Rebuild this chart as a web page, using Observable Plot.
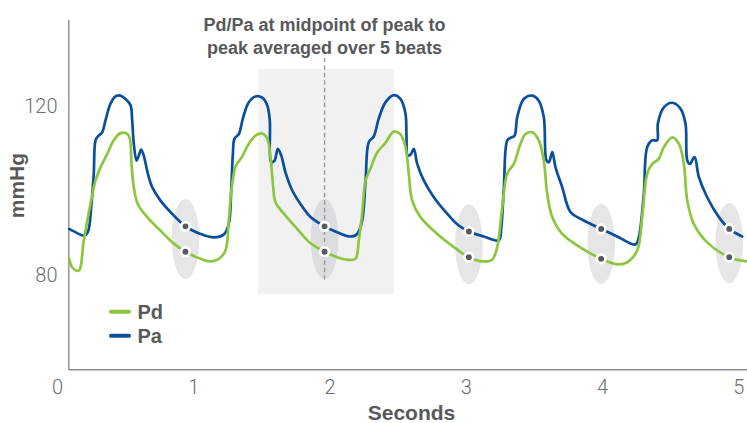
<!DOCTYPE html>
<html>
<head>
<meta charset="utf-8">
<script src="https://cdn.jsdelivr.net/npm/d3@7"></script>
<script src="https://cdn.jsdelivr.net/npm/@observablehq/plot@0.6"></script>
<style>
  html, body { margin: 0; padding: 0; background: #fff; }
  #chart { position: relative; width: 747px; height: 423px; }
</style>
</head>
<body>
<div id="chart"></div>
<script>
// ---- Data (seconds, mmHg) ----
const paTime = [0.086,0.145,0.193,0.222,0.247,0.266,0.279,0.296,0.328,0.352,0.389,0.426,0.462,0.499,0.536,0.548,0.560,0.580,0.597,0.614,0.633,0.663,0.695,0.756,0.829,0.939,1.050,1.147,1.221,1.257,1.275,1.287,1.299,1.331,1.363,1.404,1.453,1.502,1.539,1.558,1.568,1.593,1.617,1.642,1.673,1.723,1.783,1.857,1.960,2.053,2.150,2.200,2.236,2.261,2.285,2.321,2.358,2.407,2.468,2.517,2.554,2.561,2.571,2.591,2.615,2.640,2.688,2.762,2.860,2.945,3.019,3.129,3.239,3.257,3.276,3.301,3.325,3.354,3.374,3.422,3.484,3.532,3.569,3.589,3.606,3.631,3.655,3.704,3.765,3.863,3.990,4.108,4.242,4.266,4.303,4.328,4.365,4.401,4.406,4.450,4.512,4.572,4.609,4.622,4.641,4.675,4.707,4.768,4.854,4.930,5.025];
const paPressure = [90.6,89.6,89.0,89.8,95.7,103.7,111.6,112.5,113.5,116.3,120.3,122.0,122.2,121.4,119.9,116.3,110.8,106.8,108.0,109.4,108.0,103.7,100.5,97.3,94.6,91.2,89.4,88.6,89.3,91.8,99.7,108.4,112.0,113.1,117.1,120.6,122.0,121.7,119.9,116.3,106.4,106.8,109.6,108.0,104.0,99.7,96.5,93.4,91.2,89.8,88.8,89.4,92.6,102.1,111.2,112.5,116.8,120.6,122.3,121.4,117.9,113.1,108.0,108.2,109.6,106.0,102.1,98.1,94.2,91.4,90.0,88.8,87.9,91.0,100.5,111.6,112.2,112.7,117.1,121.4,122.2,121.0,117.1,106.8,106.4,108.8,105.2,100.5,94.6,92.6,90.6,88.8,86.9,88.6,98.9,110.0,111.6,111.6,115.5,119.4,120.5,119.1,115.5,106.8,106.0,107.6,102.9,98.1,93.4,90.6,88.8];

const pdTime = [0.086,0.108,0.156,0.193,0.242,0.279,0.316,0.365,0.413,0.462,0.512,0.531,0.543,0.560,0.589,0.658,0.756,0.854,0.939,1.050,1.123,1.184,1.233,1.257,1.273,1.292,1.306,1.356,1.404,1.453,1.502,1.539,1.563,1.583,1.600,1.661,1.759,1.857,1.960,2.053,2.126,2.187,2.211,2.236,2.261,2.297,2.346,2.407,2.468,2.517,2.554,2.578,2.603,2.664,2.787,2.909,3.019,3.129,3.190,3.227,3.264,3.301,3.349,3.398,3.435,3.484,3.532,3.569,3.594,3.631,3.704,3.814,3.990,4.108,4.181,4.255,4.291,4.328,4.365,4.413,4.450,4.512,4.560,4.597,4.622,4.670,4.768,4.930,5.062];
const pdPressure = [83.5,81.5,80.7,87.9,96.5,102.1,105.2,108.4,111.6,113.3,113.1,112.0,106.0,100.5,96.5,93.4,90.2,87.1,85.2,83.5,82.9,83.5,85.5,92.6,98.9,103.3,105.4,107.8,110.8,112.7,113.2,112.0,107.6,100.5,96.9,94.2,90.6,87.2,85.2,83.9,83.3,83.5,87.9,94.2,102.1,104.9,108.7,111.0,113.7,113.0,110.0,103.7,97.3,93.4,89.4,86.3,83.9,82.9,83.3,86.3,95.7,103.7,106.0,110.8,113.1,113.5,111.6,106.8,98.9,93.4,89.4,86.7,83.5,82.2,82.7,85.5,93.4,103.7,106.0,107.2,110.0,112.3,110.8,106.0,97.3,91.8,87.4,83.9,82.9];

// midpoint of peak-to-peak for each of the 5 beats (seconds)
const midpointTimes = [0.939, 1.960, 3.019, 3.990, 4.930];

// highlighted beat window and annotation
const windowStart = 1.477, windowEnd = 2.473, windowLow = 75.0, windowHigh = 128.4;
const markerTime = 1.96, markerLow = 78.4, markerHigh = 131.0;
const annotation = "Pd/Pa at midpoint of peak to\npeak averaged over 5 beats";

const xTicks = [0, 1, 2, 3, 4, 5];
const yTicks = [80, 120];
const xDomain = [0, 5.064];
const yDomain = [57.2, 140];
const axisStart = 0.083;

const series = [
  {name: "Pd", color: "#8cc63f"},
  {name: "Pa", color: "#0a4f9c"}
];

// ---- Build tables ----
const pa = paTime.map((t, i) => ({t, v: paPressure[i]}));
const pd = pdTime.map((t, i) => ({t, v: pdPressure[i]}));
const mids = midpointTimes.map(t => {
  const a = paPressure[paTime.indexOf(t)];
  const d = pdPressure[pdTime.indexOf(t)];
  return {t, pa: a, pd: d, mid: (a + d) / 2};
});
const dots = mids.flatMap(m => [{t: m.t, v: m.pa}, {t: m.t, v: m.pd}]);

const ellipse = {
  draw(context, size) {
    const ry = Math.sqrt(size / Math.PI);
    const rx = ry * 0.345;
    const k = 0.5523;
    context.moveTo(rx, 0);
    context.bezierCurveTo(rx, k * ry, k * rx, ry, 0, ry);
    context.bezierCurveTo(-k * rx, ry, -rx, k * ry, -rx, 0);
    context.bezierCurveTo(-rx, -k * ry, -k * rx, -ry, 0, -ry);
    context.bezierCurveTo(k * rx, -ry, rx, -k * ry, rx, 0);
    context.closePath();
  }
};

const textGray = "#58595b";
const tickGray = "#6d6e71";
const axisGray = "#8e8f91";
const boldFont = "Liberation Sans, Arial, Helvetica, sans-serif";
const lightFont = "Roboto, Liberation Sans, Arial, sans-serif";

const chart = Plot.plot({
  width: 747,
  height: 423,
  marginLeft: 57,
  marginRight: 0,
  marginTop: 20,
  marginBottom: 53.7,
  x: {domain: xDomain},
  y: {domain: yDomain},
  style: {background: "white", overflow: "visible"},
  marks: [
    Plot.rect([{x1: windowStart, x2: windowEnd, y1: windowLow, y2: windowHigh}],
      {x1: "x1", x2: "x2", y1: "y1", y2: "y2", fill: "#f1f1f2"}),
    Plot.dot(mids, {x: "t", y: "mid", r: 40, symbol: ellipse, fill: "#bcbec0", fillOpacity: 0.38, stroke: "none"}),
    Plot.ruleX([markerTime], {y1: markerLow, y2: markerHigh, stroke: "#98999b", strokeWidth: 1.4, strokeDasharray: "4.5,3"}),
    Plot.ruleX([axisStart], {stroke: axisGray, strokeWidth: 1.4}),
    Plot.ruleY([yDomain[0]], {x1: axisStart, x2: xDomain[1], stroke: axisGray, strokeWidth: 1.4}),
    Plot.line(pa, {x: "t", y: "v", stroke: series[1].color, strokeWidth: 2.7, curve: "catmull-rom", strokeLinejoin: "round"}),
    Plot.line(pd, {x: "t", y: "v", stroke: series[0].color, strokeWidth: 2.7, curve: "catmull-rom", strokeLinejoin: "round"}),
    Plot.dot(dots, {x: "t", y: "v", r: 4.3, fill: textGray, stroke: "white", strokeWidth: 2.7}),
    Plot.axisX({ticks: xTicks, tickSize: 0, tickPadding: 10, tickFormat: d => String(d), label: null,
      fontSize: 20, fontWeight: 300, fontFamily: lightFont, fill: tickGray}),
    Plot.axisY({ticks: yTicks, tickSize: 0, tickPadding: 0, tickFormat: d => String(d), label: null,
      fontSize: 20, fontWeight: 300, fontFamily: lightFont, fill: tickGray, dy: 1.5}),
    Plot.text(["Seconds"], {frameAnchor: "bottom", text: d => d, lineAnchor: "bottom", textAnchor: "middle", dx: 9, dy: 50,
      fontSize: 21, fontWeight: "bold", fontFamily: boldFont, fill: textGray}),
    Plot.text(["mmHg"], {frameAnchor: "left", text: d => d, rotate: -90, lineAnchor: "bottom", textAnchor: "middle", dx: -34, dy: -9.6,
      fontSize: 21, fontWeight: "bold", fontFamily: boldFont, fill: textGray}),
    Plot.text([{t: markerTime, label: annotation}], {x: "t", text: "label", frameAnchor: "top", lineAnchor: "top", textAnchor: "middle",
      dy: -5.5, lineHeight: 1.26, fontSize: 18, fontWeight: "bold", fontFamily: boldFont, fill: textGray})
  ]
});

document.getElementById("chart").appendChild(chart);

// Legend
const svg = d3.select(chart);
const lg = svg.append("g").attr("class", "legend").attr("text-anchor", "start");
series.forEach((s, i) => {
  const y = 311.7 + i * 24;
  lg.append("line").attr("x1", 111).attr("x2", 129).attr("y1", y).attr("y2", y)
    .attr("stroke", s.color).attr("stroke-width", 4).attr("stroke-linecap", "round");
  lg.append("text").attr("x", 137.5).attr("y", y + 6.8).text(s.name)
    .attr("text-anchor", "start")
    .attr("font-family", boldFont).attr("font-weight", "bold").attr("font-size", 20).attr("fill", textGray);
});
</script>
</body>
</html>
